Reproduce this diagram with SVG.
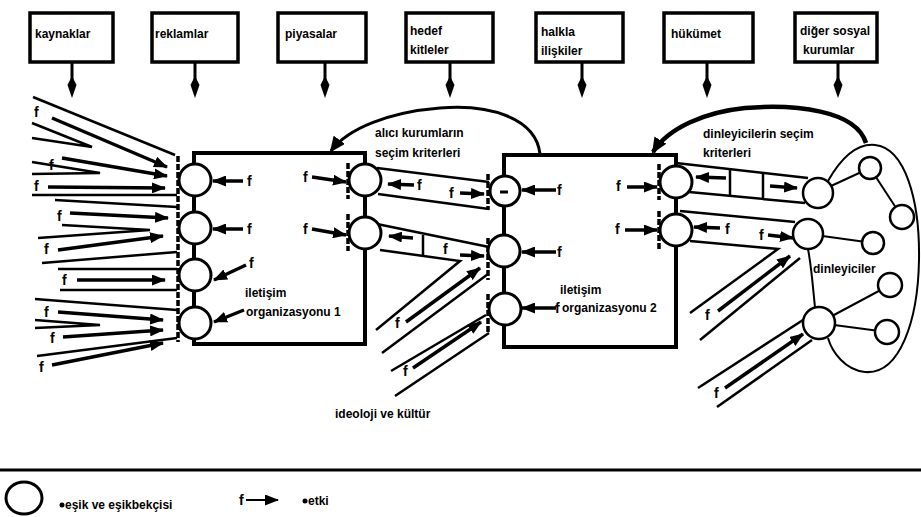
<svg xmlns="http://www.w3.org/2000/svg" width="921" height="517" viewBox="0 0 921 517">
<defs>
<style>
.box{fill:#fff;stroke:#000;stroke-width:3.5}
.t{font-family:"Liberation Sans",Arial,sans-serif;font-weight:bold;font-size:12px;fill:#000}
.f{font-family:"Liberation Sans",Arial,sans-serif;font-weight:bold;font-size:14px;fill:#000}
.org{fill:none;stroke:#000;stroke-width:4}
.gk{fill:#fff;stroke:#000;stroke-width:3}
.sm{fill:#fff;stroke:#000;stroke-width:2.5}
.ch{stroke:#000;stroke-width:2.5;fill:none}
.ln{stroke:#000;stroke-width:2;fill:none}
.ar{stroke:#000;stroke-width:3.5;fill:none;marker-end:url(#ah)}
.gate{stroke:#000;stroke-width:3.5;stroke-dasharray:6 2;fill:none}
.cv{fill:none;stroke:#000;stroke-width:3;marker-end:url(#ah2)}
</style>
<marker id="ah" markerUnits="userSpaceOnUse" markerWidth="14" markerHeight="11" refX="13" refY="5.5" orient="auto"><path d="M0,0 L14,5.5 L0,11 z" fill="#000"/></marker>
<marker id="ah2" markerUnits="userSpaceOnUse" markerWidth="16" markerHeight="14" refX="14" refY="7" orient="auto"><path d="M0,0 L16,7 L0,14 z" fill="#000"/></marker>
<g id="drop"><line x1="0" y1="62" x2="0" y2="80" stroke="#000" stroke-width="3"/><path d="M0,76 L4.5,85 L0,98 L-4.5,85 z" fill="#000"/></g>
</defs>
<rect width="921" height="517" fill="#fff"/>

<!-- top boxes -->
<g id="kaynaklar"><rect class="box" x="30" y="13" width="83" height="49"/><text class="t" x="35" y="38">kaynaklar</text></g>
<g id="reklamlar"><rect class="box" x="152" y="13" width="86" height="49"/><text class="t" x="155" y="38">reklamlar</text></g>
<g id="piyasalar"><rect class="box" x="278" y="13" width="88" height="49"/><text class="t" x="285" y="38">piyasalar</text></g>
<g id="hedef"><rect class="box" x="406" y="13" width="87" height="49"/><text class="t" x="410" y="35">hedef</text><text class="t" x="410" y="54">kitleler</text></g>
<g id="halkla"><rect class="box" x="536" y="13" width="87" height="49"/><text class="t" x="541" y="36">halkla</text><text class="t" x="541" y="55">ilişkiler</text></g>
<g id="hukumet"><rect class="box" x="664" y="13" width="89" height="49"/><text class="t" x="671" y="38">hükümet</text></g>
<g id="diger"><rect class="box" x="795" y="13" width="82" height="49"/><text class="t" x="800" y="35">diğer sosyal</text><text class="t" x="803" y="54">kurumlar</text></g>

<g id="connectors">
<use href="#drop" x="72"/><use href="#drop" x="195"/><use href="#drop" x="325"/><use href="#drop" x="450"/><use href="#drop" x="582"/><use href="#drop" x="707"/><use href="#drop" x="838"/>

<!-- left fan, group 1 -->
<line class="ch" x1="33" y1="97" x2="175" y2="155"/>
<line class="ch" x1="32" y1="195" x2="177" y2="195"/>
<polyline class="ch" points="32,123 92,147 32,138"/>
<polyline class="ch" points="32,162 100,173 32,174"/>
<line class="ar" x1="52" y1="118" x2="167" y2="167"/>
<line class="ar" x1="62" y1="158" x2="167" y2="176"/>
<line class="ar" x1="48" y1="187" x2="165" y2="188"/>
<!-- group 2 -->
<line class="ch" x1="55" y1="200" x2="177" y2="207"/>
<line class="ch" x1="42" y1="263" x2="177" y2="252"/>
<polyline class="ch" points="38,238 150,230 62,225"/>
<line class="ar" x1="70" y1="213" x2="168" y2="218"/>
<line class="ar" x1="58" y1="250" x2="163" y2="236"/>
<!-- group 3 -->
<line class="ch" x1="58" y1="269" x2="177" y2="269"/>
<line class="ch" x1="60" y1="290" x2="177" y2="290"/>
<line class="ar" x1="77" y1="280" x2="165" y2="280"/>
<!-- group 4 -->
<line class="ch" x1="35" y1="299" x2="177" y2="310"/>
<line class="ch" x1="37" y1="356" x2="177" y2="338"/>
<polyline class="ch" points="35,320 100,325 35,328"/>
<line class="ar" x1="58" y1="312" x2="163" y2="320"/>
<line class="ar" x1="63" y1="337" x2="163" y2="330"/>
<line class="ar" x1="52" y1="365" x2="163" y2="343"/>

<!-- org1 inner arrows -->
<line class="ar" x1="243" y1="181" x2="213" y2="181"/>
<line class="ar" x1="243" y1="229" x2="213" y2="229"/>
<line class="ar" x1="246" y1="265" x2="214" y2="280"/>
<line class="ar" x1="244" y1="310" x2="214" y2="322"/>
<line class="ar" x1="312" y1="177" x2="346" y2="182"/>
<line class="ar" x1="312" y1="229" x2="346" y2="235"/>

<!-- org1 -> org2 channels -->
<line class="ch" x1="377" y1="168" x2="489" y2="182"/>
<line class="ch" x1="378" y1="194" x2="489" y2="209"/>
<line class="ar" x1="414" y1="185" x2="388" y2="184"/>
<line class="ar" x1="460" y1="193" x2="484" y2="194"/>
<line class="ch" x1="377" y1="224" x2="489" y2="247"/>
<polyline class="ch" points="380,250 460,261 376,330"/>
<line class="ch" x1="423" y1="235" x2="423" y2="255"/>
<line class="ar" x1="413" y1="238" x2="389" y2="236"/>
<line class="ar" x1="460" y1="255" x2="484" y2="256"/>

<!-- ideology channels -->
<line class="ch" x1="382" y1="353" x2="488" y2="274"/>
<line class="ar" x1="406" y1="322" x2="480" y2="268"/>
<line class="ch" x1="391" y1="371" x2="486" y2="315"/>
<line class="ch" x1="395" y1="396" x2="489" y2="333"/>
<line class="ar" x1="413" y1="368" x2="481" y2="322"/>

<!-- org2 inner arrows -->
<line class="ar" x1="556" y1="190" x2="522" y2="190"/>
<line class="ar" x1="556" y1="252" x2="522" y2="252"/>
<line class="ar" x1="556" y1="308" x2="522" y2="308"/>
<line class="ar" x1="627" y1="187" x2="657" y2="187"/>
<line class="ar" x1="625" y1="230" x2="657" y2="230"/>

<!-- org2 -> audience channels -->
<line class="ch" x1="676" y1="163" x2="808" y2="178"/>
<line class="ch" x1="689" y1="192" x2="805" y2="203"/>
<line class="ch" x1="730" y1="168" x2="730" y2="195"/>
<line class="ch" x1="763" y1="172" x2="763" y2="198"/>
<line class="ar" x1="726" y1="178" x2="696" y2="177"/>
<line class="ar" x1="770" y1="186" x2="797" y2="188"/>
<line class="ch" x1="680" y1="211" x2="795" y2="222"/>
<polyline class="ch" points="690,241 778,249 690,313"/>
<line class="ar" x1="720" y1="228" x2="694" y2="227"/>
<line class="ar" x1="768" y1="235" x2="793" y2="238"/>
<line class="ch" x1="700" y1="340" x2="800" y2="258"/>
<line class="ar" x1="718" y1="311" x2="790" y2="256"/>
<line class="ch" x1="698" y1="388" x2="803" y2="320"/>
<line class="ch" x1="717" y1="407" x2="812" y2="340"/>
<line class="ar" x1="725" y1="388" x2="803" y2="334"/>

<!-- curved selection arrows -->
<path class="cv" d="M540,154 C536,118 490,104 440,108 C390,112 348,128 331,151"/>
<path class="cv" style="stroke-width:4.5" d="M866,143 C856,110 795,104 745,108 C705,112 668,128 653,152"/>
</g>

<!-- org 1 -->
<g id="org1">
<rect class="org" x="194" y="153" width="171" height="191"/>
<line class="gate" x1="178" y1="156" x2="178" y2="342"/>
<line class="gate" x1="348" y1="163" x2="348" y2="199"/>
<line class="gate" x1="348" y1="214" x2="348" y2="251"/>
<circle class="gk" cx="195" cy="180" r="16"/>
<circle class="gk" cx="195" cy="228" r="16"/>
<circle class="gk" cx="195" cy="275" r="16"/>
<circle class="gk" cx="195" cy="323" r="16"/>
<circle class="gk" cx="365" cy="180" r="16"/>
<circle class="gk" cx="365" cy="233" r="16"/>
<text class="t" x="245" y="297">iletişim</text>
<text class="t" x="246" y="316">organizasyonu 1</text>
</g>

<!-- org 2 -->
<g id="org2">
<rect class="org" x="504" y="155" width="172" height="192"/>
<line class="gate" x1="488" y1="174" x2="488" y2="210"/>
<line class="gate" x1="488" y1="238" x2="488" y2="280"/>
<line class="gate" x1="488" y1="294" x2="488" y2="332"/>
<line class="gate" x1="659" y1="164" x2="659" y2="200"/>
<line class="gate" x1="659" y1="211" x2="659" y2="250"/>
<circle class="gk" cx="505" cy="191" r="15"/>
<line x1="500" y1="192" x2="508" y2="192" stroke="#000" stroke-width="3"/>
<circle class="gk" cx="504" cy="251" r="16"/>
<circle class="gk" cx="505" cy="309" r="16"/>
<circle class="gk" cx="676" cy="182" r="16"/>
<circle class="gk" cx="676" cy="230" r="16"/>
<text class="t" x="560" y="294">iletişim</text>
<text class="t" x="562" y="312">organizasyonu 2</text>
</g>

<!-- audience -->
<g id="dinleyiciler">
<path class="ln" d="M828,181 C840,160 855,143 875,145 C905,148 920,200 919,260 C918,320 900,375 865,372 C845,370 832,352 828,338"/>
<path class="ln" d="M808,249 C812,270 813,290 815,307"/>
<line class="ln" x1="818" y1="192" x2="870" y2="168"/>
<line class="ln" x1="870" y1="168" x2="902" y2="217"/>
<line class="ln" x1="808" y1="234" x2="873" y2="243"/>
<line class="ln" x1="819" y1="323" x2="890" y2="285"/>
<line class="ln" x1="819" y1="323" x2="887" y2="332"/>
<circle class="sm" cx="818" cy="193" r="15"/>
<circle class="sm" cx="808" cy="234" r="15"/>
<circle class="sm" cx="819" cy="323" r="16"/>
<circle class="sm" cx="870" cy="168" r="11"/>
<circle class="sm" cx="902" cy="217" r="12"/>
<circle class="sm" cx="873" cy="243" r="11"/>
<circle class="sm" cx="890" cy="285" r="12"/>
<circle class="sm" cx="887" cy="332" r="12"/>
<text class="t" x="813" y="273">dinleyiciler</text>
</g>

<!-- labels -->
<g id="labels">
<text class="t" x="375" y="137">alıcı kurumların</text>
<text class="t" x="375" y="157">seçim kriterleri</text>
<text class="t" x="703" y="138">dinleyicilerin seçim</text>
<text class="t" x="703" y="157">kriterleri</text>
<text class="t" x="335" y="418">ideoloji ve kültür</text>
</g>

<!-- f marks -->
<g id="fmarks">
<text class="f" x="34" y="117">f</text>
<text class="f" x="49" y="170">f</text>
<text class="f" x="34" y="191">f</text>
<text class="f" x="57" y="221">f</text>
<text class="f" x="44" y="254">f</text>
<text class="f" x="62" y="285">f</text>
<text class="f" x="44" y="317">f</text>
<text class="f" x="50" y="343">f</text>
<text class="f" x="39" y="372">f</text>
<text class="f" x="247" y="186">f</text>
<text class="f" x="247" y="234">f</text>
<text class="f" x="249" y="268">f</text>
<text class="f" x="303" y="182">f</text>
<text class="f" x="303" y="234">f</text>
<text class="f" x="417" y="190">f</text>
<text class="f" x="449" y="198">f</text>
<text class="f" x="443" y="254">f</text>
<text class="f" x="395" y="328">f</text>
<text class="f" x="403" y="376">f</text>
<text class="f" x="557" y="195">f</text>
<text class="f" x="557" y="257">f</text>
<text class="f" x="555" y="313">f</text>
<text class="f" x="616" y="191">f</text>
<text class="f" x="615" y="234">f</text>
<text class="f" x="725" y="234">f</text>
<text class="f" x="759" y="240">f</text>
<text class="f" x="705" y="320">f</text>
<text class="f" x="714" y="398">f</text>
</g>

<!-- legend -->
<g id="legend">
<line x1="0" y1="470" x2="921" y2="470" stroke="#000" stroke-width="3"/>
<ellipse cx="24" cy="498" rx="18" ry="16" fill="#fff" stroke="#000" stroke-width="3"/>
<circle cx="62" cy="505" r="2.5" fill="#000"/>
<text class="t" x="65" y="509">eşik ve eşikbekçisi</text>
<text class="f" x="239" y="505">f</text>
<line x1="246" y1="500" x2="278" y2="500" stroke="#000" stroke-width="2" marker-end="url(#ah)"/>
<circle cx="305" cy="501" r="2.5" fill="#000"/>
<text class="t" x="308" y="505">etki</text>
</g>
</svg>
